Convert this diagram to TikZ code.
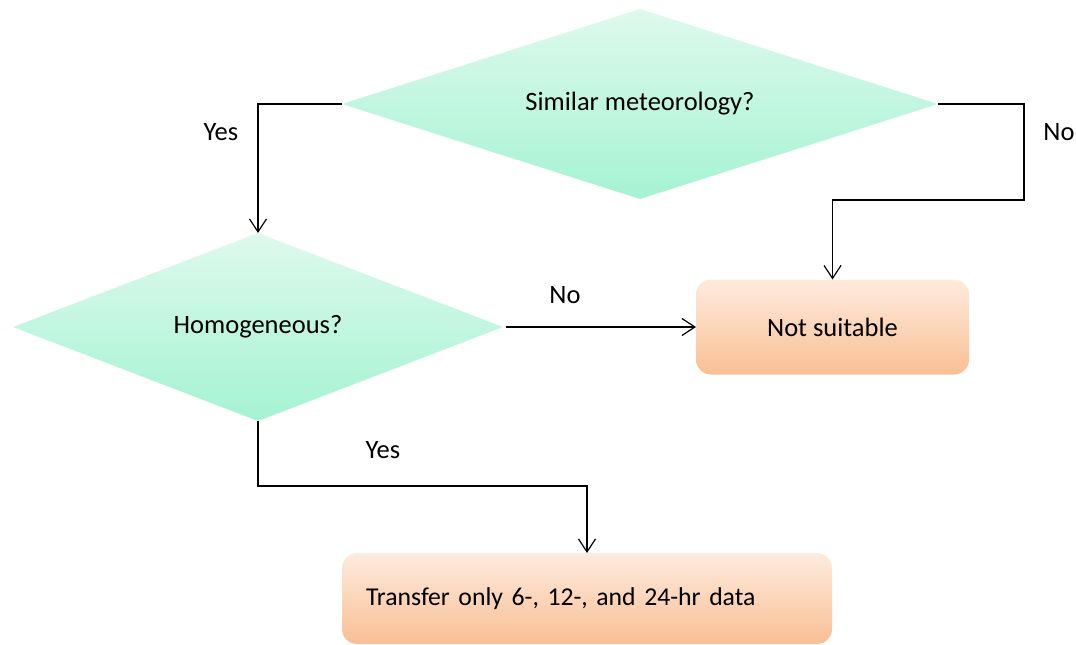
\documentclass[tikz,border=0pt]{standalone}
\usepackage{fontspec}
\setmainfont{Carlito}
\usetikzlibrary{arrows.meta,shapes.geometric}
\definecolor{mintTop}{HTML}{DEF9ED}
\definecolor{mintBot}{HTML}{A5F3D3}
\definecolor{peachTop}{HTML}{FDEBDE}
\definecolor{peachBot}{HTML}{F9BF94}
\frenchspacing
\begin{document}
\begin{tikzpicture}[x=1pt,y=-1pt,
  font=\fontsize{26.5}{30}\selectfont\frenchspacing,
  decision/.style={diamond, draw=none, inner sep=0pt, outer sep=0pt, top color=mintTop, bottom color=mintBot},
  outcome/.style={rectangle, rounded corners=15pt, draw=none, inner sep=0pt, outer sep=0pt, top color=peachTop, bottom color=peachBot},
  arr/.style={line width=1.2pt, -{Straight Barb[length=13pt,width=17pt,line width=1.2pt]}},
  lbl/.style={inner sep=0pt}
]
\useasboundingbox (0,0) rectangle (1076,645);
\node[decision, aspect=3.14, minimum width=596pt, minimum height=190pt] (d1) at (640,104) {Similar meteorology?};
\node[decision, aspect=2.6, minimum width=490pt, minimum height=188pt] (d2) at (258,327) {Homogeneous?};
\node[outcome, minimum width=273pt, minimum height=95pt] (ns) at (832.5,327) {Not suitable};
\node[outcome, minimum width=490pt, minimum height=91pt, text width=442pt, inner xsep=24pt, align=left, font=\fontsize{25.7}{30}\selectfont\frenchspacing] (tr) at (587,598.5) {\raisebox{-3pt}{Transfer only 6-, 12-, and 24-hr data}};
\coordinate (k1) at (1024,200);
\coordinate (k2) at (258,486);
\draw[arr] (d1.west) -| (d2.north);
\draw[arr] (d1.east) -| (k1) -| (ns.north);
\draw[arr, shorten <=3pt] (d2.east) -- (ns.west);
\draw[arr] (d2.south) -- (k2) -| (tr.north);
\node[lbl] (y1) at (221,132) {Yes};
\node[lbl] (n1) at (1059,132) {No};
\node[lbl] (n2) at (565,295) {No};
\node[lbl] (y2) at (383,450) {Yes};
\end{tikzpicture}
\end{document}
